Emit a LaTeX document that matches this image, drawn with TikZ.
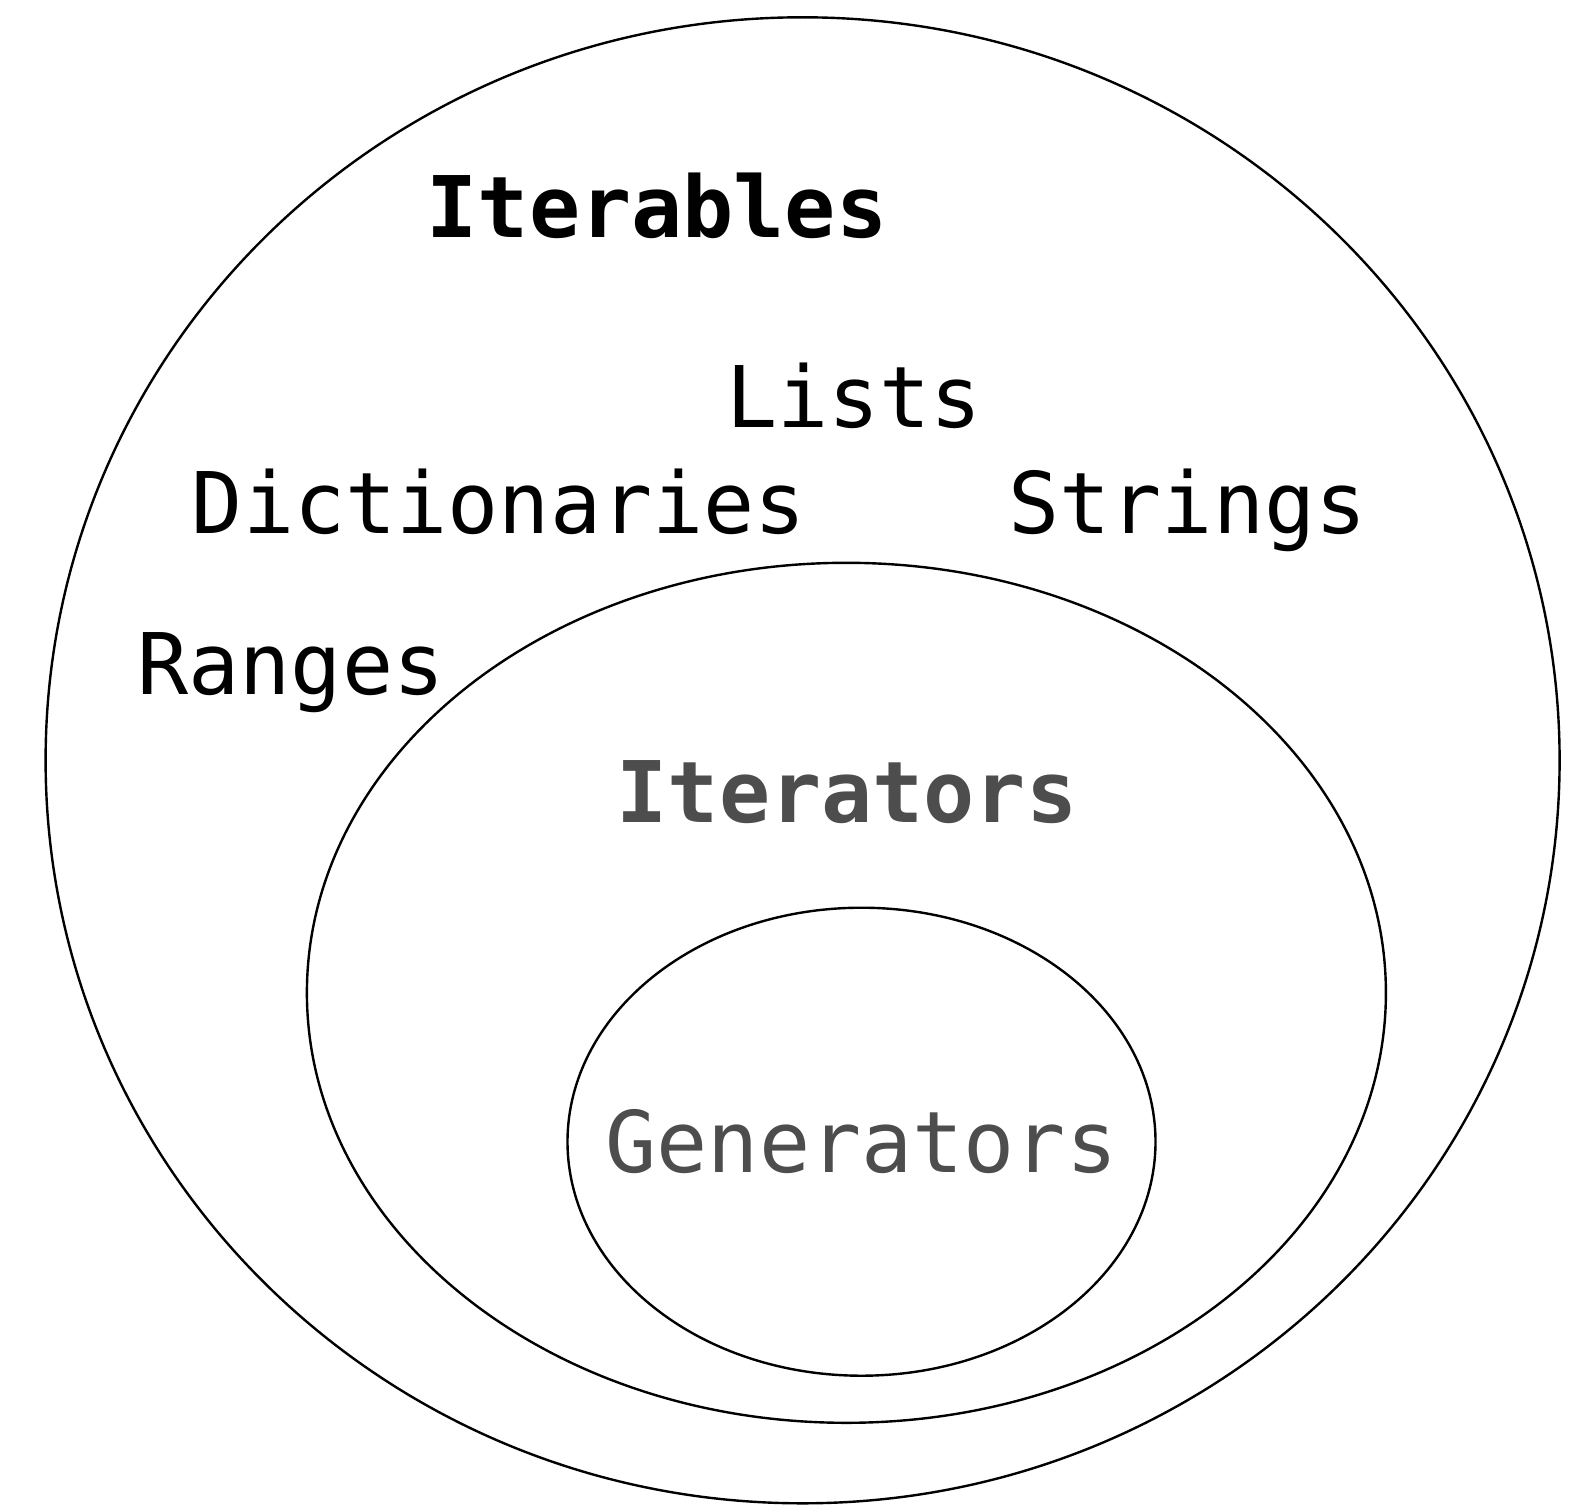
\documentclass[tikz,border=0pt]{standalone}
\usepackage{fontspec}
\setmonofont{DejaVu Sans Mono}
\usetikzlibrary{shapes.geometric}
\definecolor{greytxt}{HTML}{4D4D4D}
\begin{document}
\begin{tikzpicture}[x=1pt,y=-1pt,
  ring/.style={draw=black,line width=2.4pt,ellipse,inner sep=0pt,outer sep=0pt},
  lbl/.style={font=\fontsize{85}{90}\selectfont\ttfamily,anchor=base,inner sep=0pt},
  blbl/.style={lbl,font=\fontsize{85}{90}\selectfont\ttfamily\bfseries}]
\useasboundingbox (0,0) rectangle (1578,1504);
\node[ring,minimum width=1514pt,minimum height=1486pt] (outer) at (802.6,760.3) {};
\node[ring,minimum width=1079pt,minimum height=860pt] (middle) at (846.4,992.8) {};
\node[ring,minimum width=588pt,minimum height=468pt] (inner) at (861.5,1141.7) {};
\node[blbl] (iterables) at (657,237) {Iterables};
\node[lbl] (lists) at (854,427.7) {Lists};
\node[lbl] (dicts) at (499,533.4) {Dictionaries};
\node[lbl] (strings) at (1187.5,533.4) {Strings};
\node[lbl] (ranges) at (291,694.4) {Ranges};
\node[blbl,text=greytxt] (iterators) at (847,822.2) {Iterators};
\node[lbl,text=greytxt] (generators) at (861.5,1172.4) {Generators};
\end{tikzpicture}
\end{document}
